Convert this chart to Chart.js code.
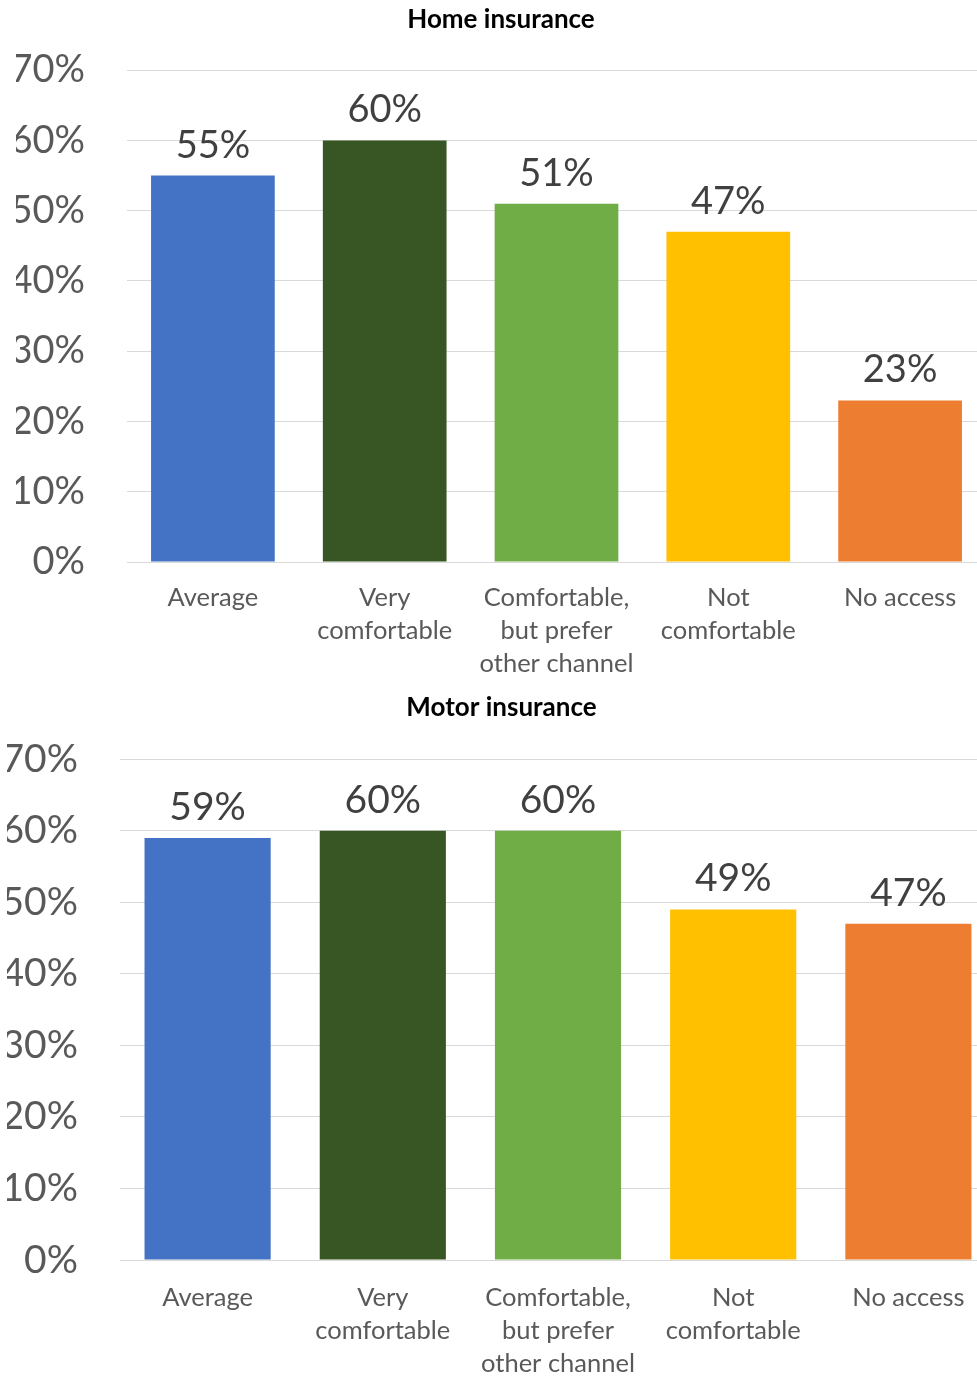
<!DOCTYPE html>
<html>
<head>
<meta charset="utf-8">
<script src="https://cdn.jsdelivr.net/npm/chart.js@4.4.1/dist/chart.umd.min.js"></script>
<style>
  body { margin: 0; background: #fff; overflow: hidden; }
  .box { position: absolute; left: 0; }
</style>
</head>
<body>
<div class="box" style="top:0;width:986px;height:680px"><canvas id="canvasHome"></canvas></div>
<div class="box" style="top:688px;width:996px;height:690px"><canvas id="canvasMotor"></canvas></div>
<script>

let categories = [
    'Average',
    ['Very', 'comfortable'],
    ['Comfortable,', 'but prefer', 'other channel'],
    ['Not', 'comfortable'],
    'No access'
]
let homeValues = [55, 60, 51, 47, 23]
let motorValues = [59, 60, 60, 49, 47]
let yTicks = [0, 10, 20, 30, 40, 50, 60, 70]
let barColors = ['#4472C4', '#375623', '#70AD47', '#FFC000', '#ED7D31']

// value printed above each bar
let valueLabels = {
    id: 'valueLabels',
    afterDatasetsDraw(chart, args, opts) {
        let ctx = chart.ctx
        let meta = chart.getDatasetMeta(0)
        ctx.save()
        ctx.font = opts.size + 'px Lato'
        ctx.fillStyle = '#404040'
        ctx.textAlign = 'center'
        ctx.textBaseline = 'alphabetic'
        meta.data.forEach(function (bar, i) {
            ctx.fillText(chart.data.datasets[0].data[i] + '%', bar.x, bar.y - 18)
        })
        ctx.restore()
    }
}

function buildChart(id, title, values, padLeft, axisWidth, fontSize, titleGap, labelGap) {
    let cfg = {
        type: 'bar',
        data: {
            labels: categories,
            datasets: [{
                data: values,
                backgroundColor: barColors,
                borderWidth: 0,
                categoryPercentage: 1,
                barPercentage: 0.72
            }]
        },
        options: {
            responsive: true,
            maintainAspectRatio: false,
            animation: false,
            layout: { padding: { left: padLeft, right: 0, top: 0, bottom: 0 } },
            plugins: {
                legend: { display: false },
                tooltip: { enabled: false },
                valueLabels: { size: fontSize },
                title: {
                    display: true,
                    text: title,
                    color: '#000',
                    font: { family: 'Lato', size: 26, weight: 'bold', lineHeight: 1.2 },
                    padding: { top: 4, bottom: titleGap }
                }
            },
            scales: {
                y: {
                    min: 0,
                    max: 70,
                    afterBuildTicks: function (scale) {
                        scale.ticks = yTicks.map(function (v) { return { value: v } })
                    },
                    afterFit: function (scale) { scale.width = axisWidth },
                    border: { display: false },
                    grid: { color: '#d9d9d9', lineWidth: 1, drawTicks: false },
                    ticks: {
                        padding: 42,
                        color: '#595959',
                        font: { family: 'Lato', size: fontSize },
                        callback: function (v) { return v + '%' }
                    }
                },
                x: {
                    afterFit: function (scale) { scale.height = 118 },
                    border: { display: false },
                    grid: { display: false },
                    ticks: {
                        padding: labelGap,
                        maxRotation: 0,
                        autoSkip: false,
                        color: '#595959',
                        font: { family: 'Lato', size: 25.5, lineHeight: 1.3 }
                    }
                }
            }
        },
        plugins: [valueLabels]
    }
    let ctx = document.getElementById(id).getContext('2d')
    new Chart(ctx, cfg)
}

buildChart('canvasHome', 'Home insurance', homeValues, 16, 111, 38, 35, 11)
buildChart('canvasMotor', 'Motor insurance', motorValues, 7, 113, 39, 36, 13)

</script>
</body>
</html>
